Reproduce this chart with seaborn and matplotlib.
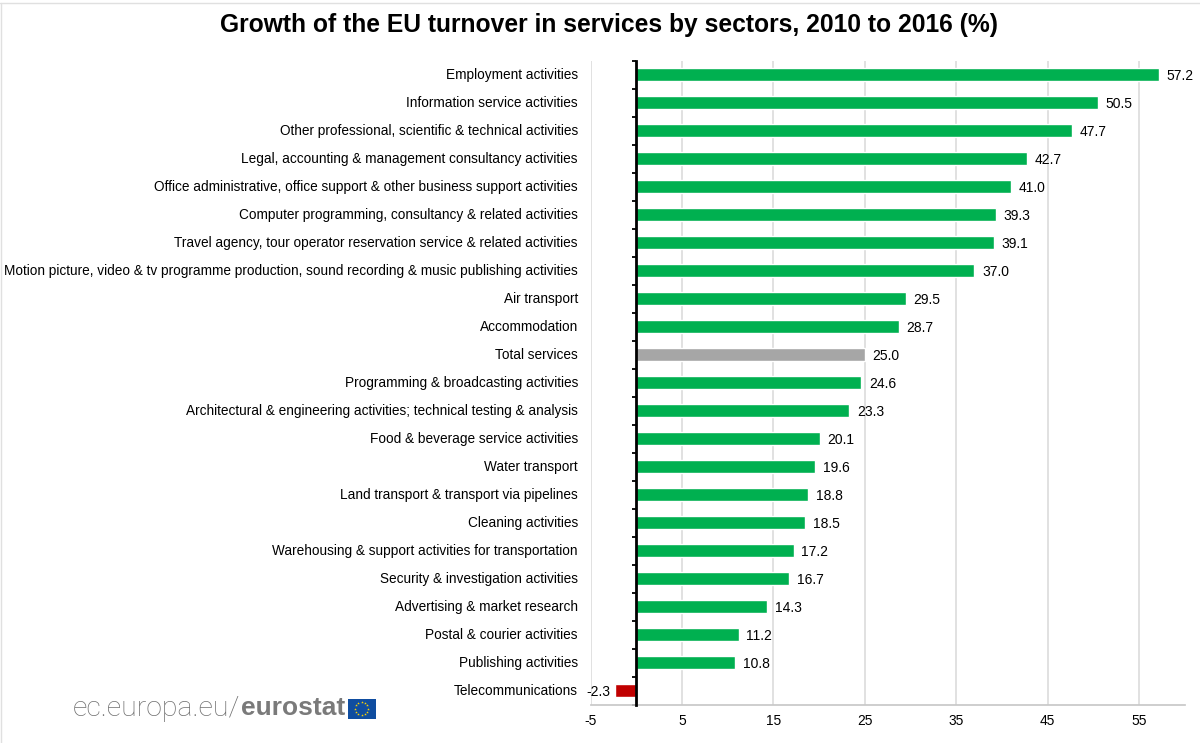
import numpy as np
import pandas as pd
import seaborn as sns
import matplotlib.pyplot as plt
from matplotlib.lines import Line2D
from matplotlib.transforms import ScaledTranslation

sectors = [
    'Employment activities',
    'Information service activities',
    'Other professional, scientific & technical activities',
    'Legal, accounting & management consultancy activities',
    'Office administrative, office support & other business support activities',
    'Computer programming, consultancy & related activities',
    'Travel agency, tour operator reservation service & related activities',
    'Motion picture, video & tv programme production, sound recording & music publishing activities',
    'Air transport',
    'Accommodation',
    'Total services',
    'Programming & broadcasting activities',
    'Architectural & engineering activities; technical testing & analysis',
    'Food & beverage service activities',
    'Water transport',
    'Land transport & transport via pipelines',
    'Cleaning activities',
    'Warehousing & support activities for transportation',
    'Security & investigation activities',
    'Advertising & market research',
    'Postal & courier activities',
    'Publishing activities',
    'Telecommunications',
]
growth = [57.2, 50.5, 47.7, 42.7, 41.0, 39.3, 39.1, 37.0, 29.5, 28.7, 25.0, 24.6,
          23.3, 20.1, 19.6, 18.8, 18.5, 17.2, 16.7, 14.3, 11.2, 10.8, -2.3]
groups = ['sector'] * 10 + ['total'] + ['sector'] * 11 + ['fall']
group_colours = {'sector': '#00b050', 'total': '#a6a6a6', 'fall': '#c00000'}
x_ticks = [-5, 5, 15, 25, 35, 45, 55]

W, H = 1200, 743

sns.set_theme(style='white')
plt.rcParams['font.family'] = ['Liberation Sans', 'DejaVu Sans']
plt.rcParams['axes.unicode_minus'] = False

dados = pd.DataFrame({'sector': sectors, 'growth': growth, 'group': groups})

fig = plt.figure(figsize=(W / 100, H / 100), dpi=100)
ax = fig.add_axes([590.6 / W, 1 - 704.5 / H, (1184.7 - 590.6) / W, (704.5 - 60.5) / H])

sns.barplot(data=dados, x='growth', y='sector', hue='group', palette=group_colours,
            order=sectors, dodge=False, legend=False, width=0.44, saturation=1, ax=ax)

for barras in ax.containers:
    valores = barras.datavalues
    folga = 3.5 if valores[0] < 0 else 5.5
    for rotulo in ax.bar_label(barras, fmt='%.1f', padding=folga, fontsize=10, color='black'):
        rotulo.xyann = (rotulo.xyann[0], rotulo.xyann[1] - 1)

ax.set_xlim(-5, 60)
ax.set_ylim(22.5, -0.5)
ax.set_xlabel('')
ax.set_ylabel('')

# eixo vertical em zero, com as marcas entre as categorias
ax.spines['left'].set_position(('data', 0))
ax.spines['left'].set_color('black')
ax.spines['left'].set_linewidth(2)
ax.spines['left'].set_zorder(5)
ax.spines['top'].set_visible(False)
ax.spines['right'].set_visible(False)
ax.spines['bottom'].set_color('#c8c8c8')

ax.set_xticks(x_ticks)
ax.xaxis.grid(True, color='#d9d9d9', linewidth=1.1)
ax.set_axisbelow(True)
ax.tick_params(axis='x', length=0, pad=6.5, labelsize=9.9, labelcolor='black')

ax.set_yticks(np.arange(-0.5, 23, 1), minor=True)
ax.tick_params(axis='y', which='minor', left=True, length=3.2, width=1.3, color='black')
ax.tick_params(axis='y', which='major', length=0, pad=42, labelsize=9.82, labelcolor='black')

# sobe um pouco os nomes das categorias
sobe = ScaledTranslation(0, 0.8 / 100, fig.dpi_scale_trans)
for nome in ax.get_yticklabels():
    nome.set_transform(nome.get_transform() + sobe)

fig.text(609 / W, 1 - 25 / H, 'Growth of the EU turnover in services by sectors, 2010 to 2016 (%)',
         ha='center', va='center', fontsize=17.75, fontweight='bold', color='black')

# logo do eurostat
fig.text(73 / W, 1 - 708 / H, 'ec.europa.eu/', ha='left', va='center', fontsize=20.5,
         family='Roboto', fontweight='light', color='#707070')
fig.text(345 / W, 1 - 708 / H, 'eurostat', ha='right', va='center', fontsize=19,
         family='Liberation Sans', fontweight='bold', color='#7a7a7a')
flag = fig.add_axes([347.5 / W, 1 - 718.5 / H, 28 / W, 20 / H])
flag.set_facecolor('#0f4da0')
flag.set_xlim(-1.4, 1.4)
flag.set_ylim(-1, 1)
flag.set_xticks([])
flag.set_yticks([])
for lado in flag.spines.values():
    lado.set_visible(False)
angulos = np.arange(12) * np.pi / 6
flag.scatter(0.65 * np.cos(angulos), 0.65 * np.sin(angulos), marker='*', s=4,
             color='#ffd500', linewidths=0)

# moldura clara da imagem
fig.add_artist(Line2D([0, 1], [1 - 3 / H, 1 - 3 / H], color='#e0e0e0', linewidth=1))
fig.add_artist(Line2D([0.5 / W, 0.5 / W], [0, 1 - 3 / H], color='#e0e0e0', linewidth=1))

fig.savefig('out.png', dpi=100)
